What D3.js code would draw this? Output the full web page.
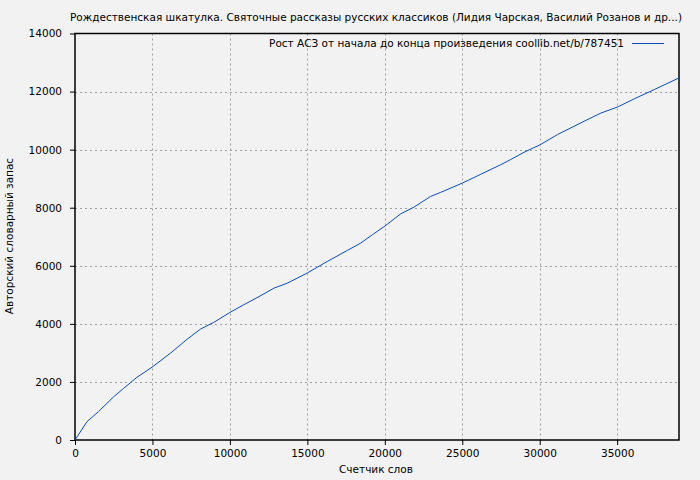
<!DOCTYPE html>
<html>
<head>
<meta charset="utf-8">
<script src="https://cdn.jsdelivr.net/npm/d3@7"></script>
<style>
  body { margin: 0; background: #f2f2f2; }
  svg { display: block; }
  text { font-family: "DejaVu Sans", Verdana, sans-serif; font-size: 10.5px; fill: #000; }
</style>
</head>
<body>
<div id="chart"></div>
<script>
// ------------------------------ DATA ------------------------------
var words = [0, 770, 1520, 2500, 3140, 4000, 4980, 6160, 7240, 8100, 8960, 9990,
             10900, 11880, 12840, 13700, 14990, 16290, 17580, 18440, 19200, 20010,
             21030, 21880, 22960, 23610, 25010, 26190, 27480, 28130, 28990, 30030,
             31150, 32870, 33950, 35030, 36100, 37400, 38990];
var vocab = [0, 630, 980, 1490, 1780, 2160, 2510, 2990, 3470, 3820, 4050, 4390,
             4660, 4940, 5230, 5400, 5750, 6150, 6530, 6780, 7070, 7370,
             7790, 8020, 8390, 8530, 8850, 9150, 9480, 9660, 9910, 10170,
             10520, 10980, 11260, 11470, 11750, 12070, 12470];
var xTicks = [0, 5000, 10000, 15000, 20000, 25000, 30000, 35000];
var yTicks = [0, 2000, 4000, 6000, 8000, 10000, 12000, 14000];

var title = "Рождественская шкатулка. Святочные рассказы русских классиков (Лидия Чарская, Василий Розанов и др...)",
    legendLabel = "Рост АСЗ от начала до конца произведения coollib.net/b/787451",
    xLabel = "Счетчик слов",
    yLabel = "Авторский словарный запас";

// ------------------------------ CONFIG ------------------------------
var width = 700, height = 480,
    plotLeft = 75, plotRight = 679, plotTop = 33.5, plotBottom = 440,
    lineColor = "#0a4cc0",
    gridColor = "#a0a0a0";

var svg = d3.select("#chart").append("svg")
    .attr("width", width)
    .attr("height", height);

svg.append("rect").attr("width", width).attr("height", height).attr("fill", "#f2f2f2");

var x = d3.scaleLinear().domain([0, 38990]).range([plotLeft, plotRight]);
var y = d3.scaleLinear().domain([0, 14000]).range([plotBottom, plotTop]);

// grid
svg.append("g").selectAll("line")
    .data(xTicks.slice(1))
    .enter().append("line")
    .attr("x1", function (d) { return Math.round(x(d)) + 0.5; })
    .attr("x2", function (d) { return Math.round(x(d)) + 0.5; })
    .attr("y1", plotTop).attr("y2", plotBottom)
    .attr("stroke", gridColor).attr("stroke-dasharray", "2,3");

svg.append("g").selectAll("line")
    .data(yTicks.slice(1, -1))
    .enter().append("line")
    .attr("y1", function (d) { return Math.round(y(d)) + 0.5; })
    .attr("y2", function (d) { return Math.round(y(d)) + 0.5; })
    .attr("x1", plotLeft).attr("x2", plotRight)
    .attr("stroke", gridColor).attr("stroke-dasharray", "2,3");

// axes
var xAxis = svg.append("g")
    .attr("transform", "translate(0," + plotBottom + ")")
    .call(d3.axisBottom(x).tickValues(xTicks).tickSize(5).tickPadding(5).tickFormat(d3.format("d")));
var yAxis = svg.append("g")
    .attr("transform", "translate(" + plotLeft + ",0)")
    .call(d3.axisLeft(y).tickValues(yTicks).tickSize(5).tickPadding(8).tickFormat(d3.format("d")));
[xAxis, yAxis].forEach(function (a) {
    a.select(".domain").remove();
    a.selectAll("text").attr("font-size", "10.5px").attr("font-family", "DejaVu Sans, Verdana, sans-serif").attr("fill", "#000");
    a.selectAll("line").attr("stroke", "#000");
});

// frame
svg.append("rect")
    .attr("x", plotLeft).attr("y", plotTop)
    .attr("width", plotRight - plotLeft).attr("height", plotBottom - plotTop)
    .attr("fill", "none").attr("stroke", "#000").attr("stroke-width", 1.5);

// line
var line = d3.line()
    .x(function (d, i) { return x(words[i]); })
    .y(function (d, i) { return y(vocab[i]); });

svg.append("path")
    .datum(words)
    .attr("d", line)
    .attr("fill", "none")
    .attr("stroke", lineColor)
    .attr("stroke-width", 1);

// legend
svg.append("text")
    .attr("x", 624).attr("y", 47)
    .attr("text-anchor", "end")
    .text(legendLabel);
svg.append("line")
    .attr("x1", 632).attr("x2", 664)
    .attr("y1", 43.5).attr("y2", 43.5)
    .attr("stroke", lineColor);

// labels
svg.append("text")
    .attr("x", 376).attr("y", 21)
    .attr("text-anchor", "middle")
    .text(title);
svg.append("text")
    .attr("x", 376).attr("y", 473)
    .attr("text-anchor", "middle")
    .text(xLabel);
svg.append("text")
    .attr("transform", "translate(13,236) rotate(-90)")
    .attr("text-anchor", "middle")
    .text(yLabel);
</script>
</body>
</html>
